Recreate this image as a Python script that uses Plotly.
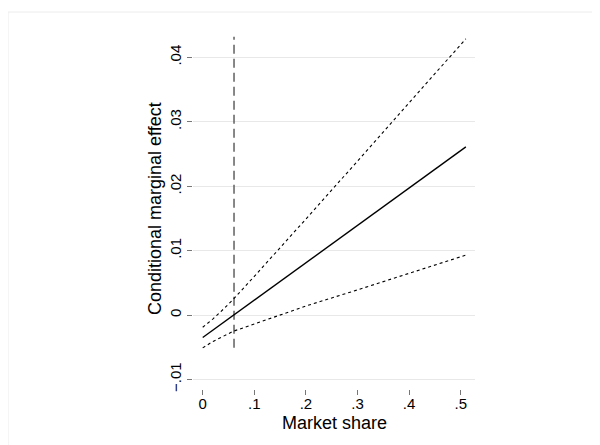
import plotly.graph_objects as go

# Data
share_x = [0, 0.02, 0.04, 0.06, 0.1, 0.15, 0.2, 0.3, 0.4, 0.51]
effect = [-0.0035, -0.00234, -0.00118, 0.0, 0.0023, 0.0052, 0.0081, 0.0139, 0.0197, 0.0261]
upper_ci = [-0.0019, -0.0006, 0.0009, 0.0025, 0.0060, 0.0104, 0.0149, 0.0239, 0.0329, 0.0429]
lower_ci = [-0.0051, -0.0041, -0.0033, -0.0025, -0.0014, 0.0000, 0.0014, 0.0039, 0.0065, 0.0093]
vline_x = [0.0607, 0.0607]
vline_y = [-0.0051, 0.0432]

x_tickvals = [0, 0.1, 0.2, 0.3, 0.4, 0.5]
x_ticktext = ["0", ".1", ".2", ".3", ".4", ".5"]
y_tickvals = [-0.01, 0, 0.01, 0.02, 0.03, 0.04]
y_ticktext = ["\u2212.01", "0", ".01", ".02", ".03", ".04"]

FONT = "Liberation Sans, Arial, Helvetica, sans-serif"

# page body has an 8px default margin, so the figure is 8px smaller and shifted
PL, PT, PW, PH = 185, 20, 282, 361

fig = go.Figure()
fig.add_trace(go.Scatter(x=vline_x, y=vline_y, mode="lines",
                         line=dict(color="#555555", width=1.4, dash="9px,5px"),
                         showlegend=False, hoverinfo="skip"))
fig.add_trace(go.Scatter(x=share_x, y=upper_ci, mode="lines",
                         line=dict(color="black", width=1.1, dash="3px,3px"),
                         showlegend=False))
fig.add_trace(go.Scatter(x=share_x, y=lower_ci, mode="lines",
                         line=dict(color="black", width=1.1, dash="3px,3px"),
                         showlegend=False))
fig.add_trace(go.Scatter(x=share_x, y=effect, mode="lines",
                         line=dict(color="black", width=1.4),
                         showlegend=False))

fig.update_layout(
    width=592, height=437,
    margin=dict(l=PL, r=592 - PL - PW, t=PT, b=437 - PT - PH, autoexpand=False),
    paper_bgcolor="white", plot_bgcolor="white",
    font=dict(family=FONT, size=15, color="black"),
    xaxis=dict(range=[-0.0188, 0.5277], tickvals=x_tickvals, ticktext=x_ticktext,
               ticks="outside", ticklen=5, tickcolor="#777777", tickwidth=1,
               ticklabelstandoff=-4,
               showgrid=False, zeroline=False, showline=False,
               tickfont=dict(size=15, family=FONT)),
    yaxis=dict(range=[-0.01149, 0.04457], tickvals=y_tickvals, ticktext=y_ticktext,
               ticks="outside", ticklen=5, tickcolor="#777777", tickwidth=1,
               tickangle=-90,
               showgrid=True, gridcolor="#e8e8e8", gridwidth=1.2,
               zeroline=False, showline=False,
               tickfont=dict(size=15, family=FONT)),
    shapes=[dict(type="rect", xref="paper", yref="paper",
                 x0=(0 - PL) / PW, x1=(640 - PL) / PW,
                 y0=(PT + PH - 480) / PH, y1=(PT + PH - 4) / PH,
                 line=dict(color="#ececec", width=1), layer="below")],
    annotations=[
        dict(text="Market share", xref="paper", yref="paper", x=0.5, y=-0.094,
             xanchor="center", yanchor="middle", showarrow=False,
             font=dict(size=18, family=FONT)),
        dict(text="Conditional marginal effect", xref="paper", yref="paper",
             x=-0.1365, y=0.5, textangle=-90, xanchor="center", yanchor="middle",
             showarrow=False, font=dict(size=18, family=FONT)),
    ],
)

fig.write_html("out.html")
